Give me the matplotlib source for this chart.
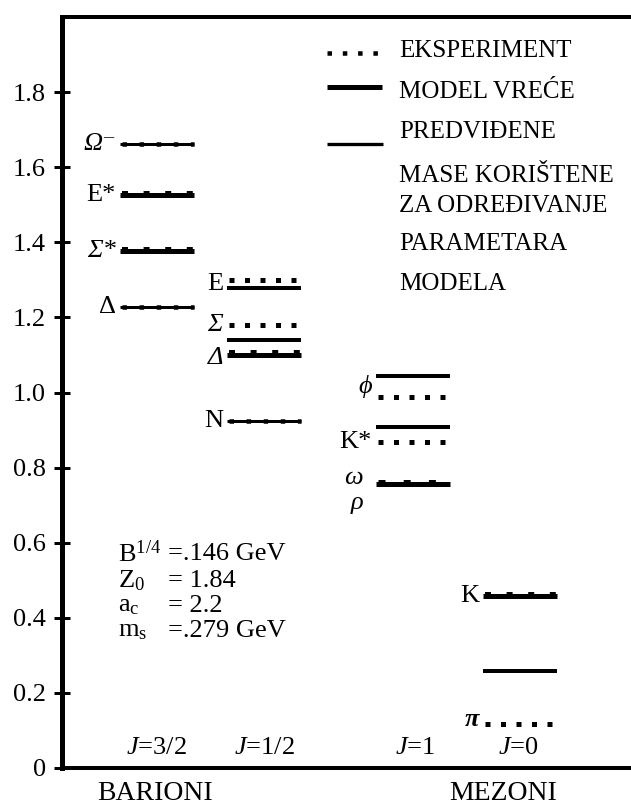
import numpy as np
import matplotlib
matplotlib.use("Agg")
import matplotlib.pyplot as plt

plt.rcParams['font.family'] = ['Liberation Serif', 'DejaVu Serif']
plt.rcParams['mathtext.fontset'] = 'custom'
plt.rcParams['mathtext.rm'] = 'Liberation Serif'
plt.rcParams['mathtext.it'] = 'Liberation Serif:italic'
plt.rcParams['mathtext.bf'] = 'Liberation Serif:bold'

# ---------------- data ----------------
columns = ["J=3/2", "J=1/2", "J=1", "J=0"]
groups = ["BARIONI", "MEZONI"]
particles = ["Ω⁻", "E*", "Σ*", "Δ", "E", "Σ", "Λ", "N", "φ", "K*", "ωρ", "K", "π"]
labels = ["Ω⁻", "E*", "Σ*", "Δ", "E", "Σ", "Δ", "N", "ϕ", "K*", "", "K", "π"]
label_italic = [True, False, True, False, False, True, True, False,
                True, False, False, False, True]
column_of = [0, 0, 0, 0, 1, 1, 1, 1, 2, 2, 2, 3, 3]
exp_mass = [1.663, 1.525, 1.377, 1.229, 1.300, 1.179, 1.101, 0.925,
            0.987, 0.867, 0.756, 0.459, 0.116]
model_mass = [1.663, 1.525, 1.377, 1.229, 1.279, 1.139, 1.101, 0.925,
              1.045, 0.907, 0.756, 0.459, 0.257]
# 'fit' = thin line (masses used to fix parameters), 'bag' = bag model line
model_kind = ["fit", "bag", "bag", "fit", "thin", "thin", "bag", "fit",
              "thin", "thin", "bag", "bag", "thin"]
params_left = [r"B$^{1/4}$", r"Z$_{\mathrm{0}}$", r"a$_{\mathrm{c}}$", r"m$_{\mathrm{s}}$"]
params_right = ["=.146 GeV", "= 1.84", "= 2.2", "=.279 GeV"]
legend_items = ["EKSPERIMENT", "MODEL VREĆE", "PREDVIĐENE", "MASE KORIŠTENE",
                "ZA ODREĐIVANJE", "PARAMETARA", "MODELA"]
yticks = [0, 0.2, 0.4, 0.6, 0.8, 1.0, 1.2, 1.4, 1.6, 1.8]
ytick_labels = ["0", "0.2", "0.4", "0.6", "0.8", "1.0", "1.2", "1.4", "1.6", "1.8"]

# ---------------- layout ----------------
W, H = 631, 810
fig = plt.figure(figsize=(W / 100, H / 100), dpi=100)
ax = fig.add_axes([62 / W, 42 / H, (W - 62) / W, 751 / H])
ax.set_xlim(62, 631)
ax.set_ylim(0, 2.0)

col_left = [120, 227, 376, 483]
col_w = 74
PX = 72 / 100  # points per pixel

ax.spines["right"].set_visible(False)
ax.spines["left"].set_linewidth(5 * PX)
ax.spines["top"].set_linewidth(4 * PX)
ax.spines["bottom"].set_linewidth(4 * PX)
ax.set_xticks([])
ax.set_yticks(yticks)
ax.set_yticklabels(ytick_labels)
ax.tick_params(axis='y', direction='inout', length=16 * PX, width=3 * PX,
               pad=6, labelsize=19)

dot_style = (0, (1, 2.6))
lw_thick = 5 * PX
lw_thin = 3 * PX

for i, name in enumerate(particles):
    c = column_of[i]
    x0 = col_left[c]
    x1 = x0 + col_w
    kind = model_kind[i]
    m = model_mass[i]
    e = exp_mass[i]
    if kind == "bag":
        ax.hlines(m, x0, x1, colors='black', lw=lw_thick, capstyle='butt')
        dlw = 7 if name == "ωρ" else 6
        ax.hlines(e + 0.003, x0 + 2, x1, colors='black', lw=dlw * PX,
                  linestyles=dot_style)
    elif kind == "fit":
        ax.hlines(m, x0, x1, colors='black', lw=lw_thin, capstyle='butt')
        ax.hlines(e, x0 + 2, x1, colors='black', lw=4.5 * PX,
                  linestyles=(0, (1, 2.8)))
    else:
        ax.hlines(m, x0, x1, colors='black', lw=4 * PX, capstyle='butt')
        ax.hlines(e, x0 + 2, x1, colors='black', lw=5 * PX,
                  linestyles=(0, (1, 2.1)))

# particle labels
label_dy = {"Σ": 0.02, "Λ": -0.01, "K*": -0.02}
for i, name in enumerate(particles):
    if not labels[i]:
        continue
    c = column_of[i]
    if name == "π":
        y = exp_mass[i] + 0.012
    else:
        y = (exp_mass[i] + model_mass[i]) / 2 + label_dy.get(name, 0)
    ax.text(col_left[c] - 4, y, labels[i], ha='right', va='center',
            fontsize=19, fontstyle='italic' if label_italic[i] else 'normal',
            fontweight='bold' if name == "π" else 'normal')
# omega / rho
i = particles.index("ωρ")
ax.text(col_left[2] - 13, exp_mass[i] + 0.017, "ω", ha='right',
        va='center', fontsize=19, fontstyle='italic')
ax.text(col_left[2] - 13, exp_mass[i] - 0.05, "ρ", ha='right',
        va='center', fontsize=19, fontstyle='italic')

# J labels
j_centers = [156, 264, 415, 518]
for c, lab in enumerate(columns):
    jtxt = r"$\mathit{J}$" + lab[1:]
    ax.text(j_centers[c], 0.053, jtxt, ha='center', va='center', fontsize=19)

# group labels
for gx, g in zip([155, 503], groups):
    ax.text(gx, -0.069, g, ha='center', va='center', fontsize=20, clip_on=False)

# parameters
py = [0.571, 0.499, 0.432, 0.365]
for k in range(4):
    ax.text(118, py[k], params_left[k], ha='left', va='center', fontsize=19)
    ax.text(168, py[k], params_right[k], ha='left', va='center', fontsize=19)

# legend (manual)
ax.hlines(1.904, 327, 382, colors='black', lw=4.5 * PX, linestyles=(0, (1, 2.4)))
ax.hlines(1.813, 327, 382, colors='black', lw=5 * PX, capstyle='butt')
ax.hlines(1.661, 327, 383, colors='black', lw=3.3 * PX, capstyle='butt')
leg_base = [1.894, 1.783, 1.677, 1.561, 1.481, 1.379, 1.272]
for t, yb in zip(legend_items, leg_base):
    ax.text(399, yb, t, ha='left', va='baseline', fontsize=18)

fig.savefig("out.png", dpi=100)
